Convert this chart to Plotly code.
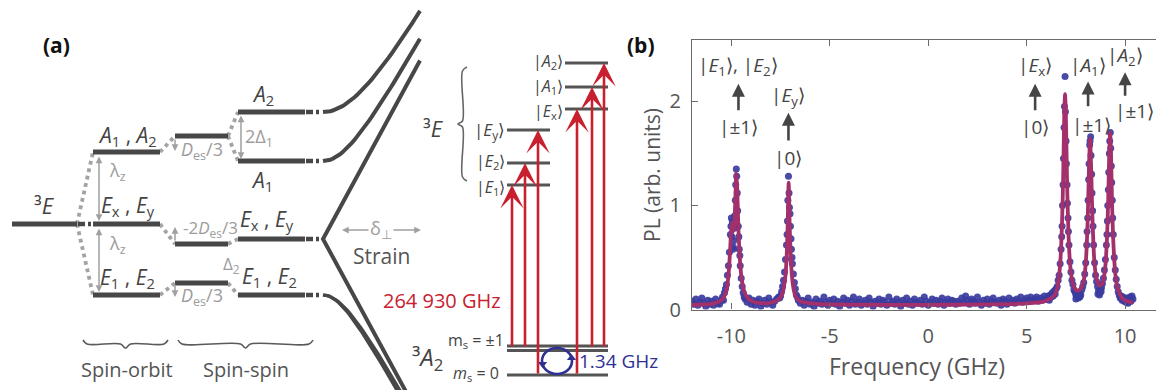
import math
import plotly.graph_objects as go

FONT = "Open Sans"
DARK = "#474747"
TXT = "#444444"
GREY = "#9c9c9c"
RED = "#c8202f"
BLUE = "#2e3192"
DOT = "#3a3c9e"
FIT = "#a3306a"
AX = "#6b6b6b"

# ---------------- Panel (b): PL spectrum ----------------
seg_a_x = [-12.0, -11.9, -11.8, -11.7, -11.6, -11.5, -11.4, -11.3, -11.2, -11.1, -11.0, -10.9, -10.8, -10.7, -10.6, -10.5]
seg_a_y = [0.08, 0.05, 0.10, 0.04, 0.07, 0.11, 0.06, 0.03, 0.09, 0.05, 0.08, 0.04, 0.10, 0.06, 0.05, 0.09]

seg_b_x = [-10.45, -10.40, -10.35, -10.30, -10.25, -10.20, -10.15, -10.10, -10.05, -10.00, -9.95, -9.90,
           -9.85, -9.80, -9.75, -9.70, -9.65, -9.60, -9.55, -9.50, -9.45, -9.40, -9.35, -9.30,
           -10.02, -9.97, -9.92, -9.88, -9.83, -9.78, -9.73, -9.68, -9.62, -9.57]
seg_b_y = [0.12, 0.09, 0.16, 0.20, 0.24, 0.33, 0.42, 0.55, 0.72, 0.88, 0.84, 0.60,
           0.78, 1.05, 1.35, 1.12, 0.80, 0.58, 0.42, 0.30, 0.22, 0.16, 0.12, 0.10,
           0.80, 0.70, 0.58, 0.66, 0.90, 1.20, 1.28, 0.95, 0.70, 0.52]

seg_c_x = [-9.2, -9.1, -9.0, -8.9, -8.8, -8.7, -8.6, -8.5, -8.4, -8.3, -8.2, -8.1, -8.0, -7.9, -7.8, -7.7, -7.6]
seg_c_y = [0.07, 0.11, 0.05, 0.09, 0.04, 0.08, 0.10, 0.03, 0.06, 0.09, 0.05, 0.11, 0.07, 0.04, 0.08, 0.10, 0.12]

seg_d_x = [-7.55, -7.50, -7.45, -7.40, -7.35, -7.30, -7.25, -7.20, -7.15, -7.10, -7.05, -7.00,
           -6.95, -6.90, -6.85, -6.80, -6.75, -6.70, -6.65, -6.60,
           -7.17, -7.13, -7.07, -7.02, -6.97, -6.92]
seg_d_y = [0.11, 0.13, 0.17, 0.22, 0.28, 0.36, 0.48, 0.62, 0.85, 1.28, 0.98, 0.80,
           0.58, 0.44, 0.34, 0.26, 0.20, 0.14, 0.12, 0.09,
           0.72, 1.05, 1.12, 0.92, 0.68, 0.50]

seg_e_x = [-6.5, -6.4, -6.3, -6.2, -6.1, -6.0, -5.9, -5.8, -5.7, -5.6, -5.5, -5.4, -5.3, -5.2, -5.1,
           -5.0, -4.9, -4.8, -4.7, -4.6, -4.5, -4.4, -4.3, -4.2, -4.1, -4.0, -3.9, -3.8, -3.7, -3.6,
           -3.5, -3.4, -3.3, -3.2, -3.1, -3.0, -2.9, -2.8, -2.7, -2.6, -2.5, -2.4, -2.3, -2.2, -2.1,
           -2.0, -1.9, -1.8, -1.7, -1.6, -1.5, -1.4, -1.3, -1.2, -1.1, -1.0, -0.9, -0.8, -0.7, -0.6,
           -0.5, -0.4, -0.3, -0.2, -0.1, 0.0, 0.1, 0.2, 0.3, 0.4, 0.5, 0.6, 0.7, 0.8, 0.9,
           1.0, 1.1, 1.2, 1.3, 1.4, 1.5, 1.6, 1.7, 1.8, 1.9, 2.0, 2.1, 2.2, 2.3, 2.4,
           2.5, 2.6, 2.7, 2.8, 2.9, 3.0, 3.1, 3.2, 3.3, 3.4, 3.5, 3.6, 3.7, 3.8, 3.9,
           4.0, 4.1, 4.2, 4.3, 4.4, 4.5, 4.6, 4.7, 4.8, 4.9, 5.0, 5.1, 5.2, 5.3, 5.4,
           5.5, 5.6, 5.7, 5.8, 5.9, 6.0]
seg_e_y = [0.06, 0.09, 0.04, 0.08, 0.11, 0.05, 0.07, 0.03, 0.10, 0.06,
           0.08, 0.05, 0.12, 0.07, 0.04, 0.09, 0.06, 0.10, 0.05, 0.08,
           0.03, 0.07, 0.11, 0.06, 0.09, 0.04, 0.08, 0.12, 0.05, 0.07,
           0.10, 0.04, 0.06, 0.09, 0.05, 0.11, 0.07, 0.03, 0.08, 0.06,
           0.10, 0.05, 0.09, 0.07, 0.04, 0.12, 0.06, 0.08, 0.05, 0.10,
           0.07, 0.03, 0.09, 0.06, 0.11, 0.05, 0.08, 0.04, 0.10, 0.07,
           0.06, 0.09, 0.05, 0.12, 0.08, 0.04, 0.07, 0.10, 0.06, 0.09,
           0.05, 0.08, 0.11, 0.04, 0.07, 0.10, 0.06, 0.09, 0.08, 0.05,
           0.08, 0.06, 0.11, 0.07, 0.13, 0.09, 0.05, 0.10, 0.08, 0.06,
           0.12, 0.07, 0.04, 0.09, 0.06, 0.10, 0.05, 0.08, 0.11, 0.07,
           0.06, 0.09, 0.04, 0.10, 0.08, 0.05, 0.11, 0.07, 0.09, 0.06,
           0.10, 0.08, 0.12, 0.07, 0.09, 0.11, 0.08, 0.12, 0.09, 0.10,
           0.12, 0.08, 0.11, 0.09, 0.13, 0.10]

seg_f_x = [6.05, 6.10, 6.15, 6.20, 6.25, 6.30, 6.35, 6.40, 6.45, 6.50,
           6.55, 6.60, 6.65, 6.70, 6.75, 6.80, 6.85, 6.90, 6.95, 7.00,
           7.05, 7.10, 7.15, 7.20, 7.25, 7.30, 7.35, 7.40, 7.45, 7.50,
           7.55, 7.60, 7.65, 7.70, 7.75, 7.80, 7.85, 7.90, 7.95, 8.00,
           8.05, 8.10, 8.15, 8.20, 8.25, 8.30, 8.35, 8.40, 8.45, 8.50,
           8.55, 8.60, 8.65, 8.70, 8.75, 8.80, 8.85, 8.90, 8.95, 9.00,
           9.05, 9.10, 9.15, 9.20, 9.25, 9.30, 9.35, 9.40, 9.45, 9.50,
           9.55, 9.60, 9.65, 9.70, 9.75, 9.80, 9.85, 9.90, 9.95, 10.00,
           10.05, 10.10, 10.15, 10.20, 10.25, 10.30, 10.35, 10.40,
           6.87, 6.92, 6.97, 7.02, 6.82, 7.07, 6.78, 7.12, 8.12, 8.17, 8.22, 8.27, 8.32, 8.37,
           8.07, 9.12, 9.17, 9.22, 9.27, 9.32, 9.37, 9.08, 7.50, 7.62, 7.70, 8.62, 8.70, 8.78]
seg_f_y = [0.10, 0.13, 0.09, 0.14, 0.12, 0.16, 0.13, 0.18, 0.15, 0.20,
           0.22, 0.28, 0.33, 0.44, 0.58, 0.80, 1.20, 1.75, 2.24, 1.62,
           1.20, 0.88, 0.62, 0.46, 0.36, 0.28, 0.24, 0.19, 0.17, 0.14,
           0.13, 0.15, 0.12, 0.16, 0.14, 0.19, 0.22, 0.26, 0.34, 0.45,
           0.62, 0.88, 1.25, 1.58, 1.66, 1.30, 0.95, 0.62, 0.45, 0.33,
           0.27, 0.22, 0.18, 0.16, 0.19, 0.21, 0.25, 0.30, 0.38, 0.48,
           0.62, 0.85, 1.15, 1.50, 1.70, 1.38, 1.05, 0.72, 0.50, 0.38,
           0.29, 0.22, 0.17, 0.14, 0.11, 0.13, 0.09, 0.12, 0.08, 0.10,
           0.07, 0.11, 0.06, 0.09, 0.12, 0.08, 0.13, 0.10,
           1.45, 1.95, 1.90, 1.40, 1.00, 1.02, 0.70, 0.75, 1.05, 1.40, 1.62, 1.48, 1.12, 0.80,
           0.75, 1.00, 1.32, 1.62, 1.55, 1.22, 0.88, 0.72, 0.10, 0.11, 0.12, 0.15, 0.14, 0.17]

dots_x = seg_a_x + seg_b_x + seg_c_x + seg_d_x + seg_e_x + seg_f_x
dots_y = seg_a_y + seg_b_y + seg_c_y + seg_d_y + seg_e_y + seg_f_y

fit_x = [-12.0, -11.5, -11.0, -10.7, -10.5, -10.35, -10.25, -10.15, -10.07, -10.0, -9.95, -9.9, -9.85,
         -9.8, -9.75, -9.7, -9.65, -9.58, -9.5, -9.4, -9.28, -9.1, -8.8, -8.4, -8.0, -7.7, -7.5,
         -7.4, -7.32, -7.25, -7.19, -7.14, -7.09, -7.04, -6.99, -6.93, -6.86, -6.78, -6.68, -6.5,
         -6.2, -5.8, -5.0, -4.0, -2.0, 0.0, 2.0, 4.0, 5.0, 5.6, 6.0, 6.25, 6.45, 6.6, 6.7, 6.77,
         6.83, 6.87, 6.91, 6.95, 6.99, 7.03, 7.07, 7.13, 7.2, 7.3, 7.45, 7.6, 7.75, 7.9, 8.0, 8.1,
         8.16, 8.22, 8.28, 8.34, 8.44, 8.55, 8.7, 8.85, 8.98, 9.08, 9.14, 9.19, 9.24, 9.29, 9.34,
         9.4, 9.5, 9.6, 9.75, 9.9, 10.1, 10.4]
fit_y = [0.045, 0.048, 0.055, 0.07, 0.09, 0.13, 0.19, 0.32, 0.55, 0.78, 0.83, 0.75, 0.82,
         1.05, 1.31, 1.15, 0.82, 0.52, 0.33, 0.21, 0.14, 0.095, 0.07, 0.06, 0.065, 0.085, 0.12,
         0.16, 0.23, 0.33, 0.52, 0.80, 1.22, 0.82, 0.54, 0.34, 0.22, 0.15, 0.11, 0.08,
         0.065, 0.057, 0.05, 0.047, 0.045, 0.045, 0.047, 0.052, 0.058, 0.068, 0.085, 0.11, 0.15, 0.25, 0.43, 0.69,
         1.06, 1.44, 1.87, 2.07, 1.88, 1.46, 1.08, 0.70, 0.45, 0.29, 0.20, 0.18, 0.20, 0.28, 0.44, 0.86,
         1.33, 1.64, 1.33, 0.89, 0.46, 0.29, 0.23, 0.25, 0.38, 0.68, 1.04, 1.46, 1.70, 1.45, 1.00,
         0.66, 0.35, 0.22, 0.14, 0.10, 0.08, 0.067]

x_ticks = [-10, -5, 0, 5, 10]
x_tick_text = ["-10", "-5", "0", "5", "10"]
y_ticks = [0, 1, 2]
y_tick_text = ["0", "1", "2"]

# peak annotations: label, x, label y, arrow bottom, arrow top, spin label, spin x, spin y
ket_text = ["|<i>E</i><sub>1</sub>⟩, |<i>E</i><sub>2</sub>⟩", "|<i>E</i><sub>y</sub>⟩",
            "|<i>E</i><sub>x</sub>⟩", "|<i>A</i><sub>1</sub>⟩", "|<i>A</i><sub>2</sub>⟩"]
ket_x = [-9.64, -7.10, 5.43, 8.12, 10.0]
ket_y = [2.34, 2.05, 2.34, 2.34, 2.44]
arr_lo = [1.90, 1.61, 1.90, 1.94, 2.04]
arr_hi = [2.17, 1.89, 2.17, 2.19, 2.28]
spin_text = ["|±1⟩", "|0⟩", "|0⟩", "|±1⟩", "|±1⟩"]
spin_x = [-9.64, -7.10, 5.43, 8.30, 11.55]
spin_y = [1.75, 1.46, 1.75, 1.77, 1.91]
spin_anchor = ["center", "center", "center", "center", "right"]

# ---------------- Panel (a): level diagram (schematic units on hidden axes) ----------------
col_3e = (12, 77)
col_so = (93, 160)
col_ss = (175, 228)
col_fin = (238, 305)
y_3e = [224]
y_so = [152, 224, 295]
y_ss = [136, 244, 283]
y_fin = [112, 161, 239, 295]
strain_start = 322
strain_vertex_x = 323
strain_slope = 1.84
strain_end_up = 420
strain_end_down = 412
hyper_up = [(112, 107), (161, 69)]      # (level, curvature)
hyper_down = [(295, 58), (295, 50)]
dotted_links = [(77, 224, 93, 152), (77, 224, 93, 295), (160, 152, 175, 136), (160, 224, 175, 244),
                (160, 295, 175, 283), (228, 136, 238, 112), (228, 136, 238, 161), (228, 244, 238, 239),
                (228, 283, 238, 295)]
grey_arrows = [(99, 155, 99, 221, "end+start"), (99, 227, 99, 292, "end+start"),
               (175, 138, 175, 151, "end"), (175, 242, 175, 227, "end"),
               (175, 283, 175, 297, "end"), (241, 114, 241, 159, "end+start"),
               (370, 230, 342, 230, "end"), (392, 230, 421, 230, "end")]

lv_left_x = (507, 550)
lv_right_x = (565, 608)
y_left_states = [185, 163, 130]    # E1, E2, Ey
y_right_states = [109, 87, 63]     # Ex, A1, A2
ground_x = (507, 608)
y_pm1 = [346, 350.5]
y_ms0 = [375]
red_x = [512, 525, 538, 577, 592, 604]
red_from = [348, 348, 375, 375, 348, 348]
red_to = [185, 163, 130, 109, 87, 63]

fig = go.Figure()

fig.add_trace(go.Scatter(x=dots_x, y=dots_y, mode="markers", xaxis="x", yaxis="y",
                         marker=dict(size=7, color=DOT, opacity=0.92, line=dict(width=0)),
                         hoverinfo="skip", showlegend=False))
fig.add_trace(go.Scatter(x=fit_x, y=fit_y, mode="lines", xaxis="x", yaxis="y",
                         line=dict(color=FIT, width=3.8, shape="spline", smoothing=0.6),
                         hoverinfo="skip", showlegend=False))


def seg_trace(xs, ys, color, width, dash=None, shape="linear"):
    fig.add_trace(go.Scatter(x=xs, y=ys, mode="lines", xaxis="x2", yaxis="y2",
                             line=dict(color=color, width=width, dash=dash, shape=shape),
                             hoverinfo="skip", showlegend=False))


xs, ys = [], []
for (a, b, c, d) in dotted_links:
    xs += [a, c, None]
    ys += [b, d, None]
seg_trace(xs, ys, "#a3a3a3", 3.8, "dot")

xs, ys = [col_3e[1] + 1, col_so[0] - 1, None], [y_3e[0], y_3e[0], None]
for y in y_fin:
    xs += [col_fin[1] + 1, strain_start, None]
    ys += [y, y, None]
seg_trace(xs, ys, DARK, 4.5, "7px,3px,3px,3px")

xs, ys = [], []
for cols, yl in [(col_3e, y_3e), (col_so, y_so), (col_ss, y_ss), (col_fin, y_fin)]:
    for y in yl:
        xs += [cols[0], cols[1], None]
        ys += [y, y, None]
seg_trace(xs, ys, DARK, 5)

for (y0, h) in hyper_up:
    px = [strain_vertex_x + i * (strain_end_up - strain_vertex_x) / 40 for i in range(41)]
    py = [y0 + h - math.sqrt(h * h + (strain_slope * (p - strain_vertex_x)) ** 2) for p in px]
    seg_trace(px, py, DARK, 4)
for (y0, h) in hyper_down:
    px = [strain_vertex_x + i * (strain_end_down - strain_vertex_x) / 40 for i in range(41)]
    py = [y0 - h + math.sqrt(h * h + (strain_slope * (p - strain_vertex_x)) ** 2) for p in px]
    seg_trace(px, py, DARK, 3.2)
vy = y_fin[2]
seg_trace([strain_end_up, strain_vertex_x, strain_end_down],
          [vy - strain_slope * (strain_end_up - strain_vertex_x), vy,
           vy + strain_slope * (strain_end_down - strain_vertex_x)], DARK, 4)


def hbrace(x0, x1, y):
    xm = (x0 + x1) / 2
    seg_trace([x0, x0 + 4, xm - 5, xm, xm + 5, x1 - 4, x1],
              [y - 3, y + 1, y + 1, y + 5, y + 1, y + 1, y - 3], "#5a5a5a", 1.6, None, "spline")


hbrace(83, 168, 343)
hbrace(178, 313, 343)
seg_trace([467, 462.5, 462.5, 458, 462.5, 462.5, 467], [67, 71, 121, 124, 127, 177, 181], "#666666", 1.6,
          None, "spline")

xs, ys = [], []
for y in y_left_states:
    xs += [lv_left_x[0], lv_left_x[1], None]
    ys += [y, y, None]
for y in y_right_states:
    xs += [lv_right_x[0], lv_right_x[1], None]
    ys += [y, y, None]
for y in y_pm1 + y_ms0:
    xs += [ground_x[0], ground_x[1], None]
    ys += [y, y, None]
seg_trace(xs, ys, "#555555", 2.8)

fig.add_trace(go.Scatter(x=[542.5, 571.5], y=[364, 358], mode="markers", xaxis="x2", yaxis="y2",
                         marker=dict(symbol=["triangle-down", "triangle-up"], size=8, color=BLUE),
                         hoverinfo="skip", showlegend=False))

annotations = []
shapes = [dict(type="circle", xref="x2", yref="y2", x0=542, x1=572, y0=348, y1=374,
               line=dict(color=BLUE, width=2.6))]

for x, y0, y1 in zip(red_x, red_from, red_to):
    annotations.append(dict(x=x, y=y1, ax=x, ay=y0, xref="x2", yref="y2", axref="x2", ayref="y2",
                            showarrow=True, arrowhead=3, arrowsize=1.5, arrowwidth=2.6,
                            arrowcolor=RED, text="", standoff=0))
for (x0, y0, x1, y1, side) in grey_arrows:
    annotations.append(dict(x=x1, y=y1, ax=x0, ay=y0, xref="x2", yref="y2", axref="x2", ayref="y2",
                            showarrow=True, arrowhead=2, arrowsize=0.9, arrowwidth=1.5,
                            arrowcolor="#a0a0a0", arrowside=side, text=""))


def txt(x, y, s, size=17, color=TXT, xanchor="center", ref=("x2", "y2"), angle=0):
    annotations.append(dict(x=x, y=y, xref=ref[0], yref=ref[1], text=s, showarrow=False,
                            xanchor=xanchor, yanchor="middle", textangle=angle,
                            font=dict(family=FONT, size=size, color=color)))


txt(56, 45, "<b>(a)</b>", 21, "#111111")
txt(44, 205, "³<i>E</i>", 22)
txt(127, 136, "<i>A</i><sub>1</sub> , <i>A</i><sub>2</sub>", 21)
txt(128, 206, "<i>E</i><sub>x</sub> , <i>E</i><sub>y</sub>", 21)
txt(127, 278, "<i>E</i><sub>1</sub> , <i>E</i><sub>2</sub>", 21)
txt(263, 95, "<i>A</i><sub>2</sub>", 21)
txt(262, 181, "<i>A</i><sub>1</sub>", 21)
txt(267, 220, "<i>E</i><sub>x</sub> , <i>E</i><sub>y</sub>", 21)
txt(269, 277, "<i>E</i><sub>1</sub> , <i>E</i><sub>2</sub>", 21)
txt(117, 171, "λ<sub>z</sub>", 18, GREY)
txt(117, 244, "λ<sub>z</sub>", 18, GREY)
txt(202, 150, "<i>D</i><sub>es</sub>/3", 18, GREY)
txt(210, 228, "-2<i>D</i><sub>es</sub>/3", 17, GREY)
txt(202, 296, "<i>D</i><sub>es</sub>/3", 18, GREY)
txt(259, 137, "2Δ<sub>1</sub>", 18, GREY)
txt(231, 264, "Δ<sub>2</sub>", 17, GREY)
txt(381, 229, "δ<sub>⊥</sub>", 18, GREY)
txt(381, 256, "Strain", 21, "#555555")
txt(127, 369, "Spin-orbit", 20, "#555555")
txt(246, 369, "Spin-spin", 20, "#555555")
txt(433, 128, "³<i>E</i>", 22)
txt(507, 130, "|<i>E</i><sub>y</sub>⟩", 17, TXT, "right")
txt(507, 161, "|<i>E</i><sub>2</sub>⟩", 16, TXT, "right")
txt(507, 187, "|<i>E</i><sub>1</sub>⟩", 16, TXT, "right")
txt(565, 111, "|<i>E</i><sub>x</sub>⟩", 16, TXT, "right")
txt(565, 86, "|<i>A</i><sub>1</sub>⟩", 16, TXT, "right")
txt(565, 61, "|<i>A</i><sub>2</sub>⟩", 16, TXT, "right")
txt(503, 300, "264 930 GHz", 20, RED, "right")
txt(427, 358, "³<i>A</i><sub>2</sub>", 24)
txt(476, 340, "m<sub>s</sub> = ±1", 16)
txt(476, 373, "<i>m</i><sub>s</sub> = 0", 16)
txt(577, 361, "1.34 GHz", 19, BLUE, "left")

txt(641, 45, "<b>(b)</b>", 21, "#111111")
txt(652, 175, "PL (arb. units)", 21, "#555555", angle=-90)
txt(917, 366, "Frequency (GHz)", 23, "#555555")
for t, x, y, lo, hi, st, sx, sy, sa in zip(ket_text, ket_x, ket_y, arr_lo, arr_hi, spin_text, spin_x,
                                           spin_y, spin_anchor):
    txt(x, y, t, 19, TXT, ref=("x", "y"))
    txt(sx, sy, st, 19, TXT, sa, ref=("x", "y"))
    annotations.append(dict(x=x, y=hi, ax=x, ay=lo, xref="x", yref="y", axref="x", ayref="y",
                            showarrow=True, arrowhead=2, arrowsize=1.0, arrowwidth=2.6,
                            arrowcolor="#454545", text="", standoff=0))

fig.update_layout(
    width=1156, height=390, margin=dict(l=0, r=0, t=0, b=0, autoexpand=False),
    paper_bgcolor="white", plot_bgcolor="rgba(0,0,0,0)", showlegend=False,
    font=dict(family=FONT, color="#555555"),
    xaxis=dict(domain=[692 / 1156, 1.0], range=[-12, 11.57], tickvals=x_ticks, ticktext=x_tick_text,
               ticks="inside", ticklen=6, tickwidth=1.2, tickcolor=AX, showline=True, linecolor=AX,
               linewidth=1.3, mirror="ticks", showgrid=False, zeroline=False, ticklabelstandoff=8,
               automargin=False, tickfont=dict(family=FONT, size=20, color="#555555"), anchor="y"),
    yaxis=dict(domain=[1 - 309.5 / 390, 1 - 40 / 390], range=[0, 2.59], tickvals=y_ticks, ticktext=y_tick_text,
               ticks="inside", ticklen=6, tickwidth=1.2, tickcolor=AX, showline=True, linecolor=AX,
               linewidth=1.3, showgrid=False, zeroline=False, ticklabelstandoff=6, automargin=False,
               tickfont=dict(family=FONT, size=20, color="#555555"), anchor="x"),
    xaxis2=dict(domain=[0, 1], range=[0, 1156], visible=False, anchor="y2", fixedrange=True, automargin=False),
    yaxis2=dict(domain=[0, 1], range=[390, 0], visible=False, anchor="x2", fixedrange=True, automargin=False),
    annotations=annotations, shapes=shapes,
)

fig.write_html("out.html")
